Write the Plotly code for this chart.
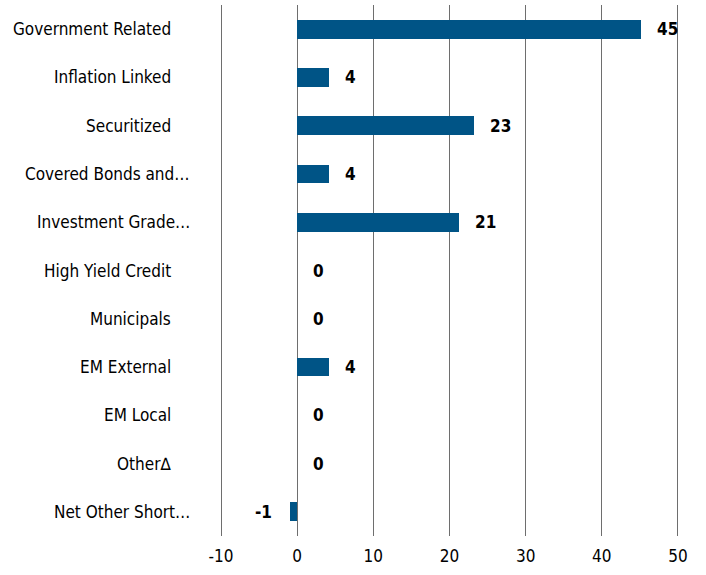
import plotly.graph_objects as go

categories = ["Government Related", "Inflation Linked", "Securitized", "Covered Bonds and…",
              "Investment Grade…", "High Yield Credit", "Municipals", "EM External",
              "EM Local", "Other∆", "Net Other Short…"]
values = [45.1, 4.2, 23.2, 4.2, 21.2, 0, 0, 4.2, 0, 0, -1.0]
labels = ["45", "4", "23", "4", "21", "0", "0", "4", "0", "0", "-1"]
tick_vals = [-10, 0, 10, 20, 30, 40, 50]
tick_text = ["-10", "0", "10", "20", "30", "40", "50"]

FONT = "DejaVu Sans Condensed, Liberation Sans Narrow, Arial Narrow, sans-serif"
BAR = "#005486"

fig = go.Figure()
fig.add_trace(go.Bar(
    y=categories, x=values, orientation="h",
    marker=dict(color=BAR, line=dict(width=0)),
    width=0.39, hoverinfo="skip",
))

annotations = []
for c, v, t in zip(categories, values, labels):
    if v < 0:
        annotations.append(dict(x=v, y=c, xref="x", yref="y", text=t, showarrow=False,
                                xanchor="right", xshift=-16,
                                font=dict(family=FONT, size=17, color="black", weight="bold")))
    else:
        annotations.append(dict(x=v, y=c, xref="x", yref="y", text=t, showarrow=False,
                                xanchor="left", xshift=14,
                                font=dict(family=FONT, size=17, color="black", weight="bold")))
    shift = -29 if c.endswith("…") else -48
    annotations.append(dict(x=-10, y=c, xref="x", yref="y", text=c, showarrow=False,
                            xanchor="right", xshift=shift,
                            font=dict(family=FONT, size=17, color="black")))

fig.update_layout(
    width=706, height=575,
    margin=dict(l=219, r=26, t=5, b=39),
    paper_bgcolor="white", plot_bgcolor="white",
    showlegend=False,
    bargap=0,
    annotations=annotations,
    xaxis=dict(range=[-10.27, 50.27], tickvals=tick_vals, ticktext=tick_text,
               showgrid=True, gridcolor="#6e6e6e", gridwidth=1.3,
               zeroline=True, zerolinecolor="#6e6e6e", zerolinewidth=1.3,
               showline=False, ticks="", ticklabelstandoff=8,
               tickfont=dict(family=FONT, size=17, color="black")),
    yaxis=dict(categoryorder="array", categoryarray=categories[::-1],
               showticklabels=False, showgrid=False, zeroline=False, showline=False,
               ticks=""),
)

fig.write_html("out.html", config={"displayModeBar": False},
               post_script="document.body.style.margin='0';window.dispatchEvent(new Event('resize'));")
